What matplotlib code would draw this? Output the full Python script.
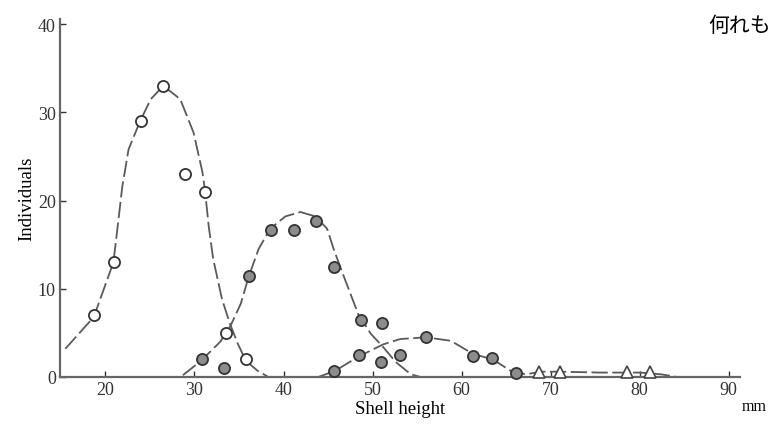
import matplotlib
matplotlib.use('Agg')
import matplotlib.pyplot as plt

plt.rcParams['font.family'] = ['Liberation Serif', 'DejaVu Serif']

open_x = [18.7, 21.0, 24.0, 26.5, 28.9, 31.2, 33.5, 35.8]
open_y = [7, 13, 29, 33, 23, 21, 5, 2]

filled_x = [30.9, 33.3, 36.1, 38.6, 41.2, 43.6, 45.7, 48.7, 51.1,
            45.7, 48.5, 51.0, 53.1, 56.0, 61.3, 63.4, 66.1]
filled_y = [2, 1, 11.5, 16.7, 16.7, 17.7, 12.5, 6.5, 6.1,
            0.7, 2.5, 1.7, 2.5, 4.5, 2.4, 2.1, 0.5]

tri_x = [68.7, 71.1, 78.6, 81.2]
tri_y = [0.6, 0.6, 0.6, 0.6]

# hand-drawn fitted curves
curveA_x = [15.5, 18.7, 20.9, 21.3, 21.9, 22.6, 23.9, 25.1, 26.5, 28.4, 29.9, 30.9,
            31.2, 31.6, 32.1, 33.1, 34.0, 34.9, 35.8, 37.1, 38.3]
curveA_y = [3.2, 6.8, 13.0, 16.4, 21.6, 25.8, 29.0, 31.5, 33.0, 31.5, 27.7, 23.2,
            21.0, 17.1, 13.4, 8.8, 6.0, 3.7, 1.8, 0.7, 0.0]

curveB_x = [28.7, 30.7, 32.9, 34.0, 35.2, 36.1, 37.2, 38.5, 40.2, 41.9, 43.6, 44.9,
            45.7, 47.0, 48.4, 49.8, 51.1, 52.6, 54.3, 55.4]
curveB_y = [0.2, 1.8, 4.0, 5.7, 8.3, 11.4, 14.5, 16.8, 18.2, 18.7, 18.2, 16.8,
            14.3, 10.8, 7.1, 4.9, 3.5, 1.7, 0.3, 0.0]

curveC_x = [43.9, 45.8, 48.4, 51.2, 53.1, 56.0, 58.8, 61.3, 63.5, 65.5, 67.2, 68.9,
            71.1, 75.6, 80.1, 82.4, 84.2]
curveC_y = [0.0, 0.7, 2.3, 3.7, 4.3, 4.5, 4.1, 2.6, 2.0, 0.7, 0.3, 0.6,
            0.6, 0.5, 0.5, 0.3, 0.0]

x_ticks = [20, 30, 40, 50, 60, 70, 80, 90]
y_ticks = [0, 10, 20, 30, 40]

fig = plt.figure(figsize=(7.74, 4.31), dpi=100)
ax = fig.add_axes([0.0775, 0.123, 0.879, 0.831])

lc = '#5a5a5a'
for cx, cy in [(curveA_x, curveA_y), (curveB_x, curveB_y), (curveC_x, curveC_y)]:
  ax.plot(cx, cy, color=lc, lw=1.3, dashes=(9, 2.5), zorder=2, clip_on=False)

ax.plot(open_x, open_y, 'o', ms=8, mfc='white', mec='#333333', mew=1.3, zorder=3, clip_on=False)
ax.plot(filled_x, filled_y, 'o', ms=8, mfc='#8c8c8c', mec='#333333', mew=1.3, zorder=3, clip_on=False)
ax.plot(tri_x, tri_y, '^', ms=8, mfc='white', mec='#444444', mew=1.2, zorder=3, clip_on=False)

ax.set_xlim(14.9, 91.3)
ax.set_ylim(0, 40.6)
ax.set_xticks(x_ticks)
ax.set_yticks(y_ticks)
ax.tick_params(direction='in', length=4, width=1, colors='#333333', labelsize=13, pad=3)

for s in ['top', 'right']:
  ax.spines[s].set_visible(False)
for s in ['left', 'bottom']:
  ax.spines[s].set_color('#666666')
  ax.spines[s].set_linewidth(1.6)

ax.set_xlabel('Shell height', fontsize=13.5, labelpad=1)
ax.set_ylabel('Individuals', fontsize=13.5, labelpad=2)

fig.text(0.958, 0.046, 'mm', fontsize=11.5)
fig.text(0.915, 0.925, '何れも', fontsize=15, family=['Noto Sans CJK JP', 'DejaVu Sans'])

plt.savefig('out.png', dpi=100)
